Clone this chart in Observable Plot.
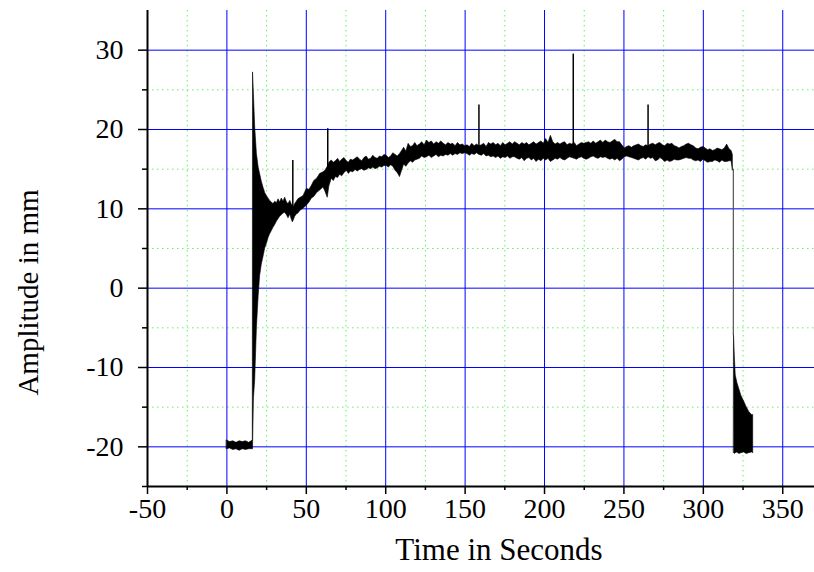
<!DOCTYPE html>
<html><head><meta charset="utf-8">
<script src="https://cdn.jsdelivr.net/npm/d3@7"></script>
<script src="https://cdn.jsdelivr.net/npm/@observablehq/plot@0.6"></script>
<style>body{margin:0;background:#fff;}</style>
</head><body><div id="chart"></div>
<script>
// Envelope of the recorded signal: time (s), upper and lower edge of the noisy trace (mm)
const bandTime = [0,2,4,6,8,10,12,14,16.3,16.45,17.0,17.8,18.9,20.0,20.9,22.0,23.0,24.1,25.2,26.2,27.2,28.3,29.3,30.5,31.5,32.5,33.5,34.6,35.6,36.7,37.8,38.8,39.9,40.9,41.5,42.0,43.0,44.0,45.0,46.5,48.2,50.3,52.0,53.5,55.0,56.8,58.7,60.8,62.0,63.5,64.5,
  66.0,67.3,68.6,70.0,71.3,72.6,74.0,75.5,76.8,78.0,79.6,
  81.0,82.4,83.8,85.2,86.6,88.0,89.4,90.8,92.2,93.6,95.0,96.4,97.8,99.2,100.6,102.0,103.4,104.8,106.2,107.6,109.0,
  110.3,111.6,113.0,114.4,115.8,117.2,118.6,120.0,
  121.5,123.0,124.5,126.0,127.5,129.0,130.5,132.0,133.5,135.0,
  136.5,138.0,139.5,141.0,142.5,144.0,145.5,147.0,148.5,150.0,
  151.5,153.0,154.5,156.0,157.5,159.0,160.5,162.0,163.5,165.0,
  166.5,168.0,169.5,171.0,172.5,174.0,175.5,177.0,178.5,180.0,
  181.5,183.0,184.5,186.0,187.5,189.0,190.5,192.0,193.5,195.0,
  196.5,198.0,199.5,201.0,202.5,204.0,205.5,207.0,208.5,210.0,
  211.5,213.0,214.5,216.0,217.5,219.0,220.5,222.0,223.5,225.0,
  226.5,228.0,229.5,231.0,232.5,234.0,235.5,237.0,238.5,240.0,
  241.5,243.0,244.5,246.0,247.5,249.0,250.5,252.0,253.5,255.0,
  256.5,258.0,259.5,261.0,262.5,264.0,265.5,267.0,268.5,270.0,
  271.5,273.0,274.5,276.0,277.5,279.0,280.5,282.0,283.5,285.0,
  286.5,288.0,289.5,291.0,292.5,294.0,295.5,297.0,298.5,300.0,
  301.5,303.0,304.5,306.0,307.5,309.0,310.5,312.0,313.5,315.0,
  316.5,317.8,318.6,
  319.3,319.8,320.4,321.5,322.6,324.0,325.7,327.3,328.9,330.6,331.4];
const bandHigh = [-19.2,-19.4,-19.3,-19.5,-19.3,-19.4,-19.3,-19.5,-19.2,27.2,24.5,20.3,16.9,15.2,14.4,13.4,12.7,12.0,11.6,11.3,11.0,10.8,10.6,10.9,10.7,11.2,10.8,11.3,10.9,11.4,10.8,10.6,11.0,10.5,10.4,10.2,10.6,10.9,11.2,11.4,11.6,12.5,12.4,12.9,13.5,13.8,14.4,14.6,14.8,15.3,15.8,
  16.1,15.8,16.0,16.3,15.9,16.2,16.4,16.0,15.8,16.2,16.1,
  16.3,16.5,16.2,16.0,16.4,16.6,16.2,16.3,16.7,16.4,16.3,16.6,16.5,16.8,16.7,16.4,16.6,17.0,16.8,16.6,16.9,
  17.3,17.7,17.2,18.2,17.8,17.9,18.3,17.9,
  18.1,18.4,18.0,18.6,18.3,18.5,18.1,18.4,18.2,18.5,
  18.2,18.0,18.3,18.1,18.2,17.9,18.3,18.0,18.1,17.9,
  18.0,17.8,18.2,17.9,18.1,17.9,18.0,18.2,17.8,18.3,
  18.1,18.3,18.0,18.2,17.9,18.3,18.0,18.2,18.4,18.1,
  18.4,18.2,18.0,18.3,18.1,18.3,18.0,18.2,18.4,18.1,
  18.3,18.5,18.2,18.8,18.3,19.2,18.4,18.1,18.3,18.1,
  18.3,18.4,18.0,18.2,18.1,18.3,17.9,18.1,18.3,18.2,
  18.3,18.4,18.2,18.5,18.2,18.4,18.6,18.3,18.6,18.4,
  18.3,18.5,18.7,18.4,18.4,18.0,17.6,17.8,17.9,17.7,
  17.9,18.0,18.1,17.9,17.8,18.0,17.9,18.1,18.2,18.0,
  18.2,18.3,18.0,17.9,18.2,18.1,18.2,17.9,17.8,17.6,
  17.8,17.9,18.1,18.2,18.0,17.9,17.6,17.5,17.7,17.8,
  17.6,17.4,17.5,17.3,17.4,17.6,17.5,17.4,17.6,18.1,
  17.5,17.3,16.8,
  -5.8,-8.5,-11.0,-12.0,-12.7,-13.6,-14.3,-15.0,-15.6,-16.0,-16.0];
const bandLow = [-20.3,-20.2,-20.4,-20.3,-20.5,-20.3,-20.4,-20.3,-20.3,-20.3,-14.0,-11.6,-5.0,-1.0,1.5,3.0,3.9,5.0,5.6,6.3,6.8,7.2,7.6,8.0,8.4,8.7,9.0,9.2,9.4,9.5,9.2,8.8,9.3,8.6,8.3,8.5,9.0,9.3,9.4,9.8,10.0,10.4,10.8,11.3,11.5,12.0,12.3,12.7,12.2,11.4,12.8,
  13.8,13.5,14.0,13.9,14.3,14.1,14.5,14.8,14.4,14.7,14.6,
  14.9,14.7,14.9,15.0,14.8,14.9,15.1,15.0,15.2,15.0,15.1,15.3,15.2,15.4,15.4,15.2,15.5,15.3,14.8,14.5,14.0,
  14.8,15.6,15.3,15.7,16.0,15.8,16.1,16.2,
  16.3,16.6,16.4,16.5,16.7,16.4,16.6,16.8,16.5,16.7,
  16.6,16.8,16.7,16.9,16.7,16.9,16.8,17.0,16.9,17.0,
  16.9,16.7,16.9,16.8,17.0,16.8,16.7,16.9,16.6,16.7,
  16.5,16.6,16.4,16.6,16.3,16.5,16.4,16.6,16.3,16.5,
  16.5,16.3,16.2,16.4,16.0,16.3,16.4,16.1,16.3,15.9,
  16.2,16.0,16.3,16.1,16.3,15.9,16.1,16.3,16.2,16.4,
  16.2,16.1,16.3,16.5,16.4,16.3,16.2,16.4,16.5,16.3,
  16.2,16.3,16.5,16.6,16.4,16.3,16.5,16.4,16.5,16.3,
  16.2,16.3,16.1,16.3,16.0,16.2,16.5,16.6,16.5,16.4,
  16.3,16.2,16.1,16.3,16.4,16.2,16.5,16.3,16.4,16.0,
  16.1,16.4,16.2,15.9,16.1,15.9,16.0,16.2,16.1,16.1,
  16.2,16.3,16.4,16.3,16.3,16.1,16.0,16.1,15.9,16.2,
  16.0,15.8,15.9,15.9,16.1,16.0,15.8,16.1,15.9,15.9,
  16.0,16.0,14.8,
  -20.8,-20.9,-20.8,-20.7,-20.9,-20.8,-20.7,-20.9,-20.8,-20.7,-20.8];
// Isolated spikes: time, base, peak
const spikeTime = [41.5, 63.5, 158.7, 218.1, 265.2];
const spikeBase = [9.2, 13.0, 17.5, 17.0, 17.0];
const spikePeak = [16.1, 20.1, 23.1, 29.5, 23.1];
// Drop near the end: time, from, to
const dropTime = [318.9];
const dropFrom = [15.0];
const dropTo = [-6.0];
// Axis ticks
const majorX = [-50, 0, 50, 100, 150, 200, 250, 300, 350];
const minorX = [-25, 25, 75, 125, 175, 225, 275, 325];
const majorY = [-20, -10, 0, 10, 20, 30];
const minorY = [-25, -15, -5, 5, 15, 25];
const xTitle = "Time in Seconds";
const yTitle = "Amplitude in mm";

const band = bandTime.map((t, i) => ({t, hi: bandHigh[i], lo: bandLow[i], seg: t >= 319 ? 2 : 1}));
const spikes = spikeTime.map((t, i) => ({t, base: spikeBase[i], peak: spikePeak[i]}));
const drops = dropTime.map((t, i) => ({t, a: dropFrom[i], b: dropTo[i]}));
const fmt = d => String(d);
const font = "'Liberation Serif', 'Times New Roman', serif";

const chart = Plot.plot({
  width: 814, height: 572,
  marginLeft: 147, marginRight: 0, marginTop: 10, marginBottom: 86,
  style: {fontFamily: font, fontSize: "28px", background: "white", color: "black", overflow: "visible"},
  x: {domain: [-50, 370], axis: null},
  y: {domain: [-25, 35], axis: null},
  marks: [
    Plot.ruleX(minorX, {stroke: "#66ee66", strokeWidth: 1, strokeDasharray: "1.5,3.5"}),
    Plot.ruleY(minorY.filter(v => v > -25), {stroke: "#66ee66", strokeWidth: 1, strokeDasharray: "1.5,3.5"}),
    Plot.ruleX(majorX.filter(v => v > -50), {stroke: "#0000ff", strokeWidth: 1}),
    Plot.ruleY(majorY, {stroke: "#0000ff", strokeWidth: 1}),
    Plot.areaY(band, {x: "t", y1: "lo", y2: "hi", z: "seg", fill: "black", stroke: "black", strokeWidth: 0.6, curve: "linear"}),
    Plot.ruleX(spikes, {x: "t", y1: "base", y2: "peak", stroke: "black", strokeWidth: 1.5}),
    Plot.ruleX(drops, {x: "t", y1: "a", y2: "b", stroke: "#555", strokeWidth: 1.2}),
    Plot.ruleX([-50], {stroke: "black", strokeWidth: 2}),
    Plot.ruleY([-25], {stroke: "black", strokeWidth: 2}),
    Plot.axisX({ticks: majorX, tickSize: 8, tickPadding: 4, tickFormat: fmt, label: null, strokeWidth: 1.5, fontSize: 28}),
    Plot.axisX({ticks: minorX, tickSize: 4, tickFormat: () => "", label: null, strokeWidth: 1.5}),
    Plot.axisY({ticks: majorY, tickSize: 9, tickPadding: 15, tickFormat: fmt, label: null, strokeWidth: 1.5, fontSize: 28}),
    Plot.axisY({ticks: minorY, tickSize: 5, tickFormat: () => "", label: null, strokeWidth: 1.5}),
    Plot.text([xTitle], {frameAnchor: "bottom", dx: 18, dy: 64, text: d => d, fontSize: 31, lineAnchor: "middle", textAnchor: "middle"}),
    Plot.text([yTitle], {frameAnchor: "left", dx: -119, dy: 44, rotate: -90, text: d => d, fontSize: 29, lineAnchor: "middle", textAnchor: "middle"})
  ]
});
document.getElementById("chart").appendChild(chart);
</script>
</body></html>
